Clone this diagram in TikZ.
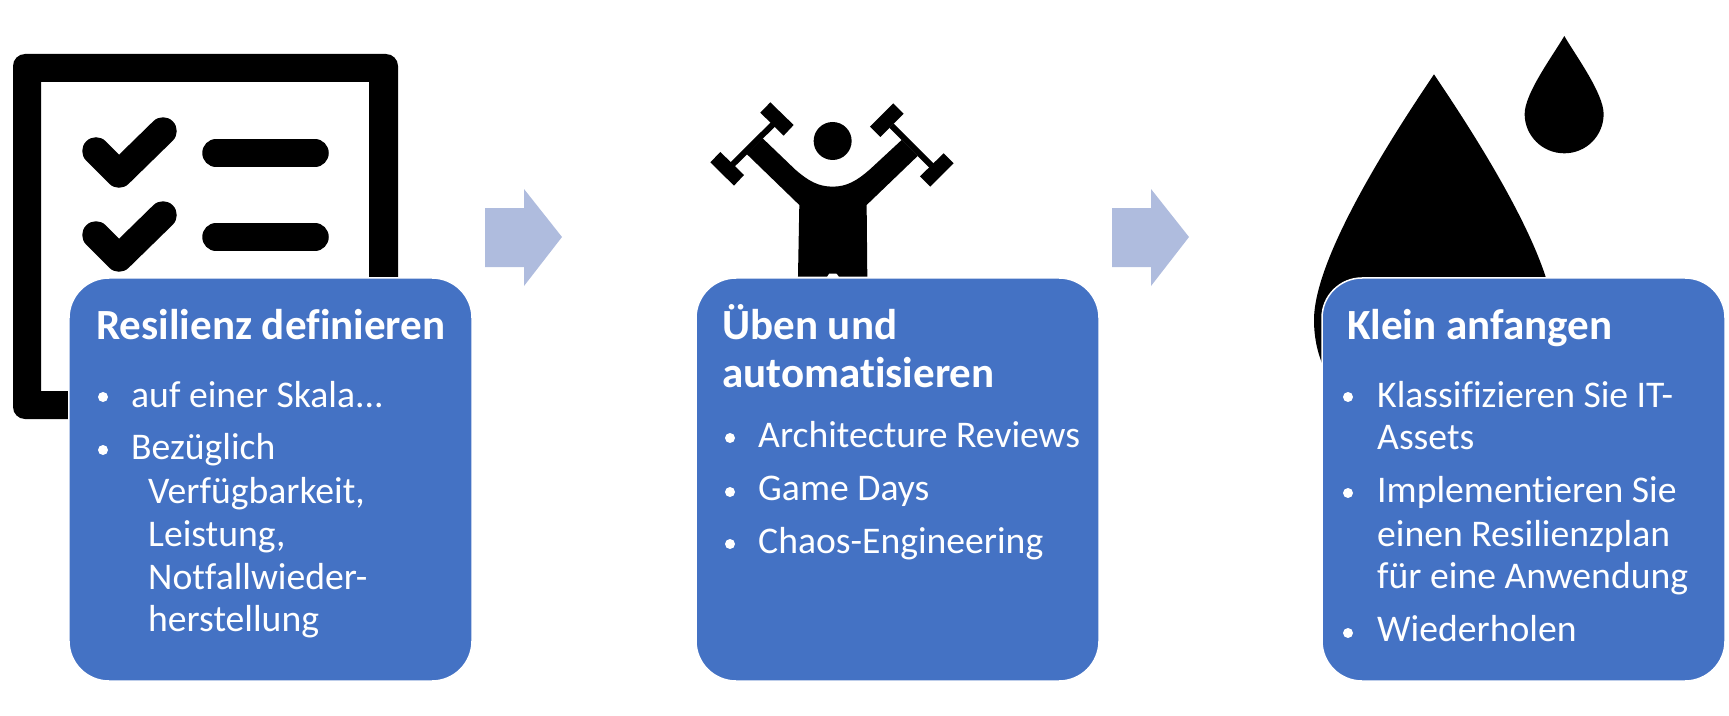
\documentclass[tikz,border=0pt]{standalone}
\usepackage{fontspec}
\setmainfont[Ligatures=NoCommon]{Carlito}
\definecolor{boxblue}{HTML}{4472C4}
\definecolor{arrowblue}{HTML}{AFBCDE}
\begin{document}
\begin{tikzpicture}[x=1bp,y=-1bp]
	\useasboundingbox (0,0) rectangle (1729,716);
	\tikzstyle{infobox}=[rectangle, fill=boxblue, draw=white, line width=1.5bp, rounded corners=40bp, minimum width=403bp, minimum height=403bp, inner sep=0pt]
	\tikzstyle{heading}=[anchor=base west, inner sep=0pt, text=white, font=\fontsize{43.2}{44}\selectfont\bfseries]
	\tikzstyle{itemtext}=[anchor=base west, inner sep=0pt, text=white, font=\fontsize{37.8}{44}\selectfont]
	\tikzstyle{bulletdot}=[circle, fill=white, inner sep=0pt, minimum size=10bp]
	\tikzstyle{icontick}=[black, line width=27.5bp, line cap=round, line join=round]
	% checklist icon
	\fill[black, even odd rule, rounded corners=12bp] (13,54) rectangle (398,419) [sharp corners] (41,82) rectangle (369,391);
	\draw[icontick] (96,151) -- (119,174) -- (163,131);
	\draw[icontick] (96,235) -- (119,258) -- (163,215);
	\draw[icontick] (216,153) -- (315,153);
	\draw[icontick] (216,237) -- (315,237);
	% person with dumbbells, read off at a third of a pixel
	\begin{scope}[shift={(680,80)}, x=0.3333bp, y=-0.3333bp]
		\fill[black] (458,183) circle (57);
		\fill[black] (354,590) -- (358,375) -- (200,222) -- (248,175) -- (345,268) .. controls (385,303) and (415,320) .. (458,320) .. controls (500,320) and (530,303) .. (570,268) -- (665,180) -- (713,228) -- (560,375) -- (562,590) -- (477,590) -- (470,581) -- (447,581) -- (441,590) -- cycle;
		\draw[black, line width=6bp] (158,253) -- (279,133);
		\draw[black, line width=6bp] (635,137) -- (755,257);
		\fill[black] (271,67) -- (341,135) -- (311,167) -- (241,98) -- cycle;
		\fill[black] (121,216) -- (192,285) -- (162,317) -- (91,247) -- cycle;
		\fill[black] (640,70) -- (671,101) -- (601,171) -- (570,140) -- cycle;
		\fill[black] (791,220) -- (821,250) -- (751,320) -- (720,289) -- cycle;
	\end{scope}
	% drops, same scale
	\begin{scope}[shift={(1290,20)}, x=0.3333bp, y=-0.3333bp]
		\fill[black] (432,163) .. controls (340,300) and (72,700) .. (72,900) .. controls (72,1000) and (110,1200) .. (432,1250) .. controls (754,1200) and (792,1000) .. (792,900) .. controls (792,700) and (524,300) .. (432,163) -- cycle;
		\fill[black] (823,48) .. controls (790,105) and (704,220) .. (704,282) .. controls (704,347) and (757,400) .. (823,400) .. controls (889,400) and (941,347) .. (941,282) .. controls (941,220) and (856,105) .. (823,48) -- cycle;
	\end{scope}
	% arrows
	\fill[arrowblue] (485,208) -- (524,208) -- (524,189) -- (562,237) -- (524,286) -- (524,267) -- (485,267) -- cycle;
	\fill[arrowblue] (1112,208) -- (1151,208) -- (1151,189) -- (1189,237) -- (1151,286) -- (1151,267) -- (1112,267) -- cycle;
	% boxes
	\node[infobox] (define) at (270.5,479.5) {};
	\node[infobox] (practice) at (897.5,479.5) {};
	\node[infobox] (start) at (1523.5,479.5) {};
	% first box
	\node[heading] (defineA) at (96,339) {Resilienz definieren};
	\node[bulletdot] (defineB) at (103,397) {};
	\node[itemtext] (defineC) at (131,407) {auf einer Skala...};
	\node[bulletdot] (defineD) at (103,450) {};
	\node[itemtext] (defineE) at (131,459) {Bezüglich};
	\node[itemtext] (defineF) at (148,503) {Verfügbarkeit,};
	\node[itemtext] (defineG) at (148,546) {Leistung,};
	\node[itemtext] (defineH) at (148,589) {Notfallwieder-};
	\node[itemtext] (defineI) at (148,631) {herstellung};
	% second box
	\node[heading] (practiceA) at (722,339) {Üben und};
	\node[heading] (practiceB) at (722,387) {automatisieren};
	\node[bulletdot] (practiceC) at (730,438) {};
	\node[itemtext] (practiceD) at (758,447) {Architecture Reviews};
	\node[bulletdot] (practiceE) at (730,492) {};
	\node[itemtext] (practiceF) at (758,500) {Game Days};
	\node[bulletdot] (practiceG) at (730,544) {};
	\node[itemtext] (practiceH) at (758,553) {Chaos-Engineering};
	% third box
	\node[heading] (startA) at (1347,339) {Klein anfangen};
	\node[bulletdot] (startB) at (1348,397) {};
	\node[itemtext] (startC) at (1377,407) {Klassifizieren Sie IT-};
	\node[itemtext] (startD) at (1377,449) {Assets};
	\node[bulletdot] (startE) at (1348,493) {};
	\node[itemtext] (startF) at (1377,502) {Implementieren Sie};
	\node[itemtext] (startG) at (1377,546) {einen Resilienzplan};
	\node[itemtext] (startH) at (1377,588) {für eine Anwendung};
	\node[bulletdot] (startI) at (1348,633) {};
	\node[itemtext] (startJ) at (1377,641) {Wiederholen};
\end{tikzpicture}
\end{document}
